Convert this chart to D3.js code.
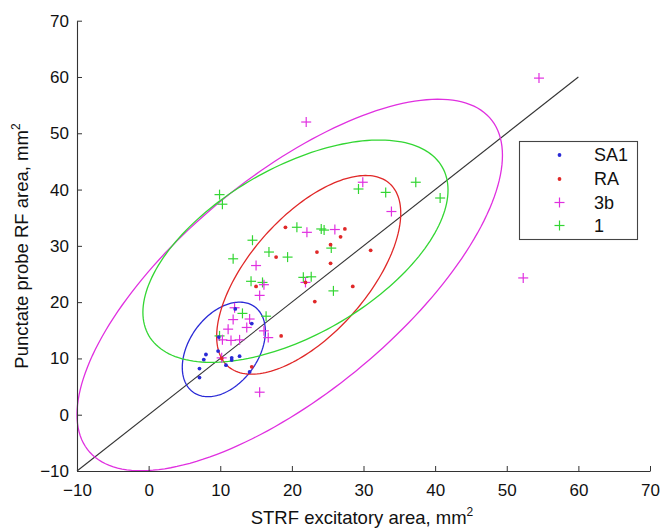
<!DOCTYPE html>
<html><head><meta charset="utf-8">
<script src="https://cdn.jsdelivr.net/npm/d3@7"></script>
<style>body{margin:0;background:#fff;} svg{display:block;}</style>
</head><body>
<svg id="chart" width="661" height="529"></svg>
<script>
// ---- data ----
const xTicks = [-10, 0, 10, 20, 30, 40, 50, 60, 70];
const yTicks = [-10, 0, 10, 20, 30, 40, 50, 60, 70];
const seriesNames = ["SA1", "RA", "3b", "1"];

const sa1X = [12.1, 14.4, 9.8, 8.0, 7.7, 9.7, 10.8, 11.6, 11.6, 12.7, 7.1, 7.1, 14.1];
const sa1Y = [18.8, 16.2, 13.8, 10.7, 9.8, 11.3, 8.8, 10.1, 9.7, 10.4, 8.2, 6.6, 7.6];

const raX = [19.1, 27.4, 26.8, 25.4, 23.5, 17.8, 31.0, 25.4, 15.0, 28.5, 23.2, 18.5, 14.4, 10.2, 21.9];
const raY = [33.3, 33.0, 31.6, 30.2, 28.9, 28.0, 29.2, 26.9, 22.8, 22.8, 20.1, 14.0, 8.5, 10.0, 23.5];

const b3X = [54.5, 52.3, 22.0, 15.5, 22.1, 26.0, 15.0, 16.1, 15.5, 21.9, 29.9, 33.9,
             12.0, 11.8, 14.1, 13.7, 11.1, 16.1, 16.7, 10.3, 11.5, 12.7, 10.2];
const b3Y = [59.8, 24.3, 52.0, 4.0, 32.4, 32.9, 26.5, 23.1, 21.2, 23.5, 41.3, 36.1,
             19.0, 16.9, 17.0, 15.5, 15.2, 14.9, 13.7, 13.3, 13.2, 13.3, 10.1];

const a1X = [9.9, 10.3, 20.7, 24.1, 24.5, 14.5, 25.5, 16.8, 19.4, 11.8, 21.6, 22.7, 14.3, 15.9,
             25.8, 13.1, 16.4, 9.9, 29.3, 33.1, 37.3, 40.7];
const a1Y = [39.1, 37.4, 33.3, 33.0, 32.8, 31.0, 29.6, 28.9, 28.0, 27.7, 24.4, 24.5, 23.7, 23.5,
             22.0, 18.0, 17.5, 14.0, 40.1, 39.5, 41.3, 38.5];

// ellipse parameters (center x, center y, half-width, half-height, correlation)
const ellCx  = [10.5, 22.35, 19.7, 20.5];
const ellCy  = [11.6, 24.85, 23.05, 29.05];
const ellA   = [5.8, 12.85, 29.7, 21.3];
const ellB   = [8.4, 17.65, 33.0, 19.75];
const ellRho = [0.38, 0.62, 0.698, 0.55];

const diagX = [-10, 60];
const diagY = [-10, 60];

// ---- styles ----
const colors = ["#2a2ad6", "#e02828", "#e030e0", "#33d633"];
const markers = ["dot", "dot", "plus", "plus"];

const svg = d3.select("#chart");
const x = d3.scaleLinear().domain([-10, 70]).range([77, 650]);
const y = d3.scaleLinear().domain([-10, 70]).range([471, 20.7]);

const font = "'Liberation Sans', Arial, Helvetica, sans-serif";

// diagonal
svg.append("line")
  .attr("x1", x(diagX[0])).attr("y1", y(diagY[0]))
  .attr("x2", x(diagX[1])).attr("y2", y(diagY[1]))
  .attr("stroke", "#333").attr("stroke-width", 1.1);

// ellipses
const line = d3.line().x(d => x(d[0])).y(d => y(d[1]));
for (let i = 0; i < 4; i++) {
  const phi = Math.acos(ellRho[i]);
  const pts = d3.range(0, 361, 2).map(deg => {
    const t = deg * Math.PI / 180;
    return [ellCx[i] + ellA[i] * Math.cos(t), ellCy[i] + ellB[i] * Math.cos(t - phi)];
  });
  svg.append("path").attr("d", line(pts))
    .attr("fill", "none").attr("stroke", colors[i]).attr("stroke-width", 1.3);
}

// markers
function drawSeries(g, xs, ys, i) {
  const pts = xs.map((v, k) => [v, ys[k]]);
  if (markers[i] === "dot") {
    g.selectAll(null).data(pts).enter().append("circle")
      .attr("cx", d => x(d[0])).attr("cy", d => y(d[1])).attr("r", 1.9)
      .attr("fill", colors[i]);
  } else {
    const s = 5;
    const gp = g.selectAll(null).data(pts).enter().append("g")
      .attr("transform", d => `translate(${x(d[0])},${y(d[1])})`);
    gp.append("line").attr("x1", -s).attr("x2", s).attr("y1", 0).attr("y2", 0)
      .attr("stroke", colors[i]).attr("stroke-width", 1.2);
    gp.append("line").attr("y1", -s).attr("y2", s).attr("x1", 0).attr("x2", 0)
      .attr("stroke", colors[i]).attr("stroke-width", 1.2);
  }
}
const mg = svg.append("g");
drawSeries(mg, a1X, a1Y, 3);
drawSeries(mg, b3X, b3Y, 2);
drawSeries(mg, raX, raY, 1);
drawSeries(mg, sa1X, sa1Y, 0);

// axes
const xAxis = d3.axisBottom(x).tickValues(xTicks).tickSizeInner(-5).tickSizeOuter(0).tickPadding(13);
const yAxis = d3.axisLeft(y).tickValues(yTicks).tickSizeInner(-5).tickSizeOuter(0).tickPadding(8);
const gx = svg.append("g").attr("transform", "translate(0,471)").call(xAxis);
const gy = svg.append("g").attr("transform", "translate(77,0)").call(yAxis);
[gx, gy].forEach(g => {
  g.select(".domain").attr("stroke", "#333").attr("stroke-width", 1.1);
  g.selectAll(".tick line").attr("stroke", "#333");
  g.selectAll(".tick text").attr("fill", "#111").style("font-family", font).style("font-size", "17px");
});

// axis titles
const xt = svg.append("text").attr("x", 362).attr("y", 524).attr("text-anchor", "middle")
  .style("font-family", font).style("font-size", "18.5px").attr("fill", "#111");
xt.append("tspan").text("STRF excitatory area, mm");
xt.append("tspan").attr("dy", -8).style("font-size", "12px").text("2");

const yt = svg.append("text").attr("transform", "translate(28,246) rotate(-90)").attr("text-anchor", "middle")
  .style("font-family", font).style("font-size", "18.5px").attr("fill", "#111");
yt.append("tspan").text("Punctate probe RF area, mm");
yt.append("tspan").attr("dy", -8).style("font-size", "12px").text("2");

// legend
const lg = svg.append("g");
lg.append("rect").attr("x", 519.5).attr("y", 141.5).attr("width", 118).attr("height", 98)
  .attr("fill", "#fff").attr("stroke", "#444").attr("stroke-width", 1.1);
const legY = [155, 179, 202.5, 225.5];
seriesNames.forEach((name, i) => {
  if (markers[i] === "dot") {
    lg.append("circle").attr("cx", 559.5).attr("cy", legY[i]).attr("r", 1.9).attr("fill", colors[i]);
  } else {
    lg.append("line").attr("x1", 554.5).attr("x2", 564.5).attr("y1", legY[i]).attr("y2", legY[i])
      .attr("stroke", colors[i]).attr("stroke-width", 1.2);
    lg.append("line").attr("x1", 559.5).attr("x2", 559.5).attr("y1", legY[i] - 5).attr("y2", legY[i] + 5)
      .attr("stroke", colors[i]).attr("stroke-width", 1.2);
  }
  lg.append("text").attr("x", 594).attr("y", legY[i]).attr("dy", "0.36em")
    .style("font-family", font).style("font-size", "18px").attr("fill", "#111").text(name);
});
</script>
</body></html>
